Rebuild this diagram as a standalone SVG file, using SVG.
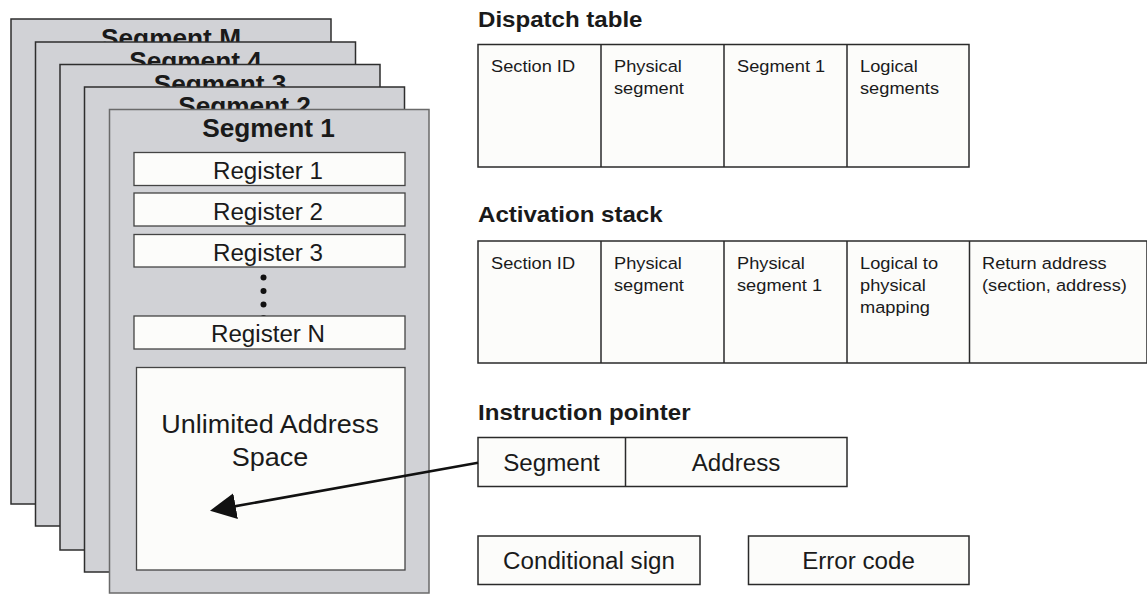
<svg xmlns="http://www.w3.org/2000/svg" width="1147" height="594" viewBox="0 0 1147 594">
<defs>
<style>
.seg{fill:#d1d2d6;stroke:#2e2e2e;stroke-width:1.5}
.seg1{fill:#d1d2d6;stroke:#6a6a6a;stroke-width:1.5}
.box{fill:#fcfcfa;stroke:#2a2a2a;stroke-width:1.5}
.reg{fill:#fcfcfa;stroke:#444;stroke-width:1.3}
.t{font-family:"Liberation Sans",Arial,Helvetica,sans-serif;fill:#1a1a1a}
.b{font-weight:bold}
.m{text-anchor:middle}
.f22{font-size:23px}
.f17{font-size:17.2px}
.f24{font-size:25px}
.h{font-size:22px;font-weight:bold}
.conn{stroke:#111;stroke-width:2.6;fill:none}
</style>
<marker id="ah" markerUnits="userSpaceOnUse" viewBox="0 0 26 26" markerWidth="26" markerHeight="26" refX="14" refY="13" orient="auto">
<path d="M0,0 L26,13 L0,26 z" fill="#111"/>
</marker>
</defs>
<rect width="1147" height="594" fill="#ffffff"/>

<g id="segment-m">
<rect class="seg" x="11" y="19" width="320" height="485"/>
<text class="t b f24 m" transform="matrix(1.05 0 0 1 171 47)">Segment M</text>
</g>
<g id="segment-4">
<rect class="seg" x="35.5" y="42" width="320" height="484"/>
<text class="t b f24 m" transform="matrix(1.05 0 0 1 195.5 70)">Segment 4</text>
</g>
<g id="segment-3">
<rect class="seg" x="60" y="64.5" width="320" height="485.5"/>
<text class="t b f24 m" transform="matrix(1.05 0 0 1 220 92.5)">Segment 3</text>
</g>
<g id="segment-2">
<rect class="seg" x="84.5" y="87" width="320" height="485"/>
<text class="t b f24 m" transform="matrix(1.05 0 0 1 244.5 115)">Segment 2</text>
</g>
<g id="segment-1">
<rect class="seg1" x="109.5" y="109.5" width="319.5" height="483.5"/>
<text class="t b f24 m" transform="matrix(1.05 0 0 1 268.5 137)">Segment 1</text>
</g>

<g id="register-1">
<rect class="reg" x="134" y="152.5" width="271" height="33"/>
<text class="t f22 m" transform="matrix(1.05 0 0 1 268 179)">Register 1</text>
</g>
<g id="register-2">
<rect class="reg" x="134" y="193" width="271" height="33"/>
<text class="t f22 m" transform="matrix(1.05 0 0 1 268 219.5)">Register 2</text>
</g>
<g id="register-3">
<rect class="reg" x="134" y="234.5" width="271" height="32.5"/>
<text class="t f22 m" transform="matrix(1.05 0 0 1 268 260.5)">Register 3</text>
</g>
<g id="ellipsis">
<circle cx="263.5" cy="277.5" r="3" fill="#111"/>
<circle cx="263.5" cy="291" r="3" fill="#111"/>
<circle cx="263.5" cy="304.5" r="3" fill="#111"/>
<circle cx="263.5" cy="318" r="3" fill="#111"/>
</g>
<g id="register-n">
<rect class="reg" x="134" y="316" width="271" height="33"/>
<text class="t f22 m" transform="matrix(1.05 0 0 1 268 342)">Register N</text>
</g>
<g id="address-space">
<rect class="reg" x="136.5" y="367.5" width="268.5" height="202.5"/>
<text class="t f24 m" transform="matrix(1.08 0 0 1 270 433)">Unlimited Address</text>
<text class="t f24 m" transform="matrix(1.08 0 0 1 270 466)">Space</text>
</g>

<g id="dispatch-table">
<text class="t h" transform="matrix(1.095 0 0 1 478 27)">Dispatch table</text>
<rect class="box" x="478" y="44.5" width="491" height="122.5"/>
<line x1="601" y1="44.5" x2="601" y2="167" stroke="#2a2a2a" stroke-width="1.5"/>
<line x1="724" y1="44.5" x2="724" y2="167" stroke="#2a2a2a" stroke-width="1.5"/>
<line x1="847" y1="44.5" x2="847" y2="167" stroke="#2a2a2a" stroke-width="1.5"/>
<text class="t f17" transform="matrix(1.06 0 0 1 491 72)">Section ID</text>
<text class="t f17" transform="matrix(1.06 0 0 1 614 72)">Physical</text>
<text class="t f17" transform="matrix(1.06 0 0 1 614 94)">segment</text>
<text class="t f17" transform="matrix(1.06 0 0 1 737 72)">Segment 1</text>
<text class="t f17" transform="matrix(1.06 0 0 1 860 72)">Logical</text>
<text class="t f17" transform="matrix(1.06 0 0 1 860 94)">segments</text>
</g>

<g id="activation-stack">
<text class="t h" transform="matrix(1.095 0 0 1 478 222)">Activation stack</text>
<rect class="box" x="478" y="241" width="669" height="122"/>
<line x1="601" y1="241" x2="601" y2="363" stroke="#2a2a2a" stroke-width="1.5"/>
<line x1="724" y1="241" x2="724" y2="363" stroke="#2a2a2a" stroke-width="1.5"/>
<line x1="847" y1="241" x2="847" y2="363" stroke="#2a2a2a" stroke-width="1.5"/>
<line x1="969.5" y1="241" x2="969.5" y2="363" stroke="#2a2a2a" stroke-width="1.5"/>
<text class="t f17" transform="matrix(1.06 0 0 1 491 269)">Section ID</text>
<text class="t f17" transform="matrix(1.06 0 0 1 614 269)">Physical</text>
<text class="t f17" transform="matrix(1.06 0 0 1 614 291)">segment</text>
<text class="t f17" transform="matrix(1.06 0 0 1 737 269)">Physical</text>
<text class="t f17" transform="matrix(1.06 0 0 1 737 291)">segment 1</text>
<text class="t f17" transform="matrix(1.06 0 0 1 860 269)">Logical to</text>
<text class="t f17" transform="matrix(1.06 0 0 1 860 291)">physical</text>
<text class="t f17" transform="matrix(1.06 0 0 1 860 313)">mapping</text>
<text class="t f17" transform="matrix(1.06 0 0 1 982 269)">Return address</text>
<text class="t f17" transform="matrix(1.06 0 0 1 982 291)">(section, address)</text>
</g>

<g id="instruction-pointer">
<text class="t h" transform="matrix(1.095 0 0 1 478 420)">Instruction pointer</text>
<rect class="box" x="478" y="437.5" width="369" height="49"/>
<line x1="625.5" y1="437.5" x2="625.5" y2="486.5" stroke="#2a2a2a" stroke-width="1.5"/>
<text class="t f22 m" transform="matrix(1.05 0 0 1 551.5 471)">Segment</text>
<text class="t f22 m" transform="matrix(1.05 0 0 1 736 471)">Address</text>
</g>

<g id="conditional-sign">
<rect class="box" x="478" y="536" width="222" height="48.5"/>
<text class="t f22 m" transform="matrix(1.05 0 0 1 589 569)">Conditional sign</text>
</g>
<g id="error-code">
<rect class="box" x="748.5" y="536" width="220.5" height="48.5"/>
<text class="t f22 m" transform="matrix(1.05 0 0 1 858.5 569)">Error code</text>
</g>

<g id="connectors">
<line class="conn" x1="478" y1="462.7" x2="221.8" y2="508.6" marker-end="url(#ah)"/>
</g>
</svg>
